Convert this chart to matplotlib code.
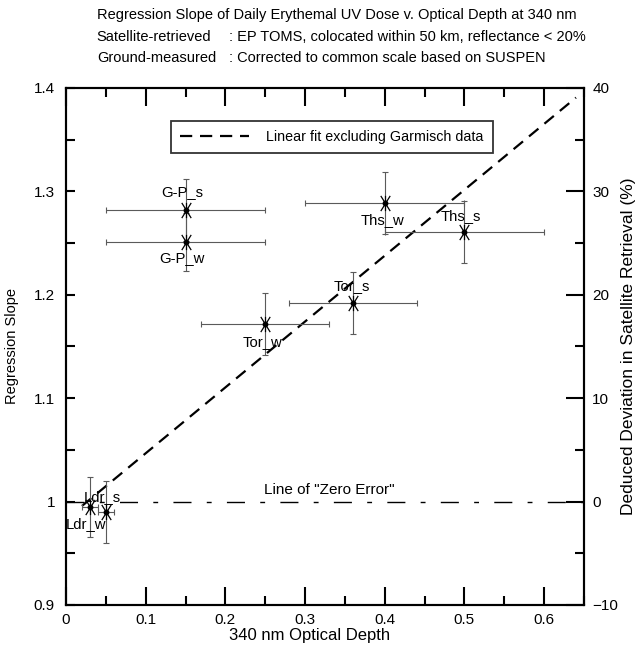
import matplotlib
matplotlib.use("Agg")
import matplotlib.pyplot as plt
import numpy as np
from matplotlib.path import Path
from matplotlib.ticker import MultipleLocator, FuncFormatter

plt.rcParams['font.family'] = ['Liberation Sans', 'DejaVu Sans']

# Site / season labels and regression results
labels = ["G-P_s", "G-P_w", "Ths_w", "Ths_s", "Tor_w", "Tor_s", "Ldr_s", "Ldr_w"]
optical_depth = [0.15, 0.15, 0.40, 0.50, 0.25, 0.36, 0.03, 0.05]
slope = [1.282, 1.251, 1.289, 1.261, 1.172, 1.192, 0.995, 0.990]
depth_err = [0.10, 0.10, 0.10, 0.10, 0.08, 0.08, 0.01, 0.01]
slope_err = [0.030, 0.028, 0.030, 0.030, 0.030, 0.030, 0.029, 0.030]

# Label anchor points (centre of each text)
label_x = [0.146, 0.146, 0.397, 0.496, 0.246, 0.359, 0.045, 0.025]
label_y = [1.299, 1.236, 1.272, 1.276, 1.154, 1.208, 1.004, 0.978]

# Linear fit excluding Garmisch data
fit_slope = 0.637
fit_intercept = 0.983
fit_range = [0.02, 0.64]

fig = plt.figure(figsize=(6.41, 6.54), dpi=100)
ax = fig.add_axes([0.103, 0.075, 0.808, 0.7905])

ax.set_xlim(0, 0.65)
ax.set_ylim(0.9, 1.4)

# Zero-error reference line
ax.plot([0, 0.65], [1.0, 1.0], color='black', lw=1.0,
        linestyle=(0, (13, 11, 3.5, 11)), zorder=1)
ax.text(0.33, 1.011, 'Line of "Zero Error"', ha='center', va='center', fontsize=11)

# Fit line
fx = np.array(fit_range)
fit_line, = ax.plot(fx, fit_intercept + fit_slope * fx, color='black', lw=1.6,
                    linestyle=(0, (5.5, 3.5)), zorder=2,
                    label='Linear fit excluding Garmisch data')

# Error bars
ax.errorbar(optical_depth, slope, xerr=depth_err, yerr=slope_err, fmt='none',
            ecolor='#5a5a5a', elinewidth=0.8, capsize=2.5, capthick=0.8, zorder=3)

# Asterisk marker: a steep X with a vertical stroke
star = Path([(-0.62, -1), (0.62, 1), (-0.62, 1), (0.62, -1), (0, -1), (0, 1)],
            [Path.MOVETO, Path.LINETO, Path.MOVETO, Path.LINETO, Path.MOVETO, Path.LINETO])
ax.scatter(optical_depth, slope, marker=star, s=120, color='black',
           linewidths=0.9, zorder=4)
ax.scatter(optical_depth, slope, marker='o', s=10, color='black', zorder=5)

for lab, lx, ly in zip(labels, label_x, label_y):
    ax.text(lx, ly, lab, ha='center', va='center', fontsize=10.7, zorder=6)

leg = ax.legend(handles=[fit_line], loc='center', bbox_to_anchor=(0.513, 0.905),
                frameon=True, fancybox=False, edgecolor='black', fontsize=10.3,
                handlelength=4.8, borderpad=0.65, handletextpad=1.2)
leg.get_frame().set_linewidth(1.3)

# Axes styling
for sp in ax.spines.values():
    sp.set_linewidth(1.5)

ax.xaxis.set_major_locator(MultipleLocator(0.1))
ax.xaxis.set_minor_locator(MultipleLocator(0.05))
ax.yaxis.set_major_locator(MultipleLocator(0.1))
ax.yaxis.set_minor_locator(MultipleLocator(0.05))

def fmt(v, pos):
    return f"{v:.2f}".rstrip('0').rstrip('.')

ax.xaxis.set_major_formatter(FuncFormatter(fmt))
ax.yaxis.set_major_formatter(FuncFormatter(fmt))

ax.tick_params(axis='x', which='major', direction='in', length=13, width=1.5,
               top=True, labelsize=11, pad=6)
ax.tick_params(axis='x', which='minor', direction='in', length=6.5, width=1.5, top=True)
ax.tick_params(axis='y', which='major', direction='in', length=6.5, width=1.5,
               labelsize=11, pad=8)
ax.tick_params(axis='y', which='minor', direction='in', length=6.5, width=1.5)

ax.set_xlabel('340 nm Optical Depth', fontsize=12, labelpad=0)
ax.xaxis.set_label_coords(0.47, -0.045)
ax.set_ylabel('Regression Slope', fontsize=10.5, labelpad=11)

# Deviation axis: (slope - 1) expressed in percent
ax2 = ax.twinx()
ax2.set_ylim(-10, 40)
ax2.yaxis.set_major_locator(MultipleLocator(10))
ax2.yaxis.set_minor_locator(MultipleLocator(5))
ax2.tick_params(axis='y', which='major', direction='in', length=13, width=1.5,
                labelsize=11, pad=6)
ax2.tick_params(axis='y', which='minor', direction='in', length=6.5, width=1.5)
for sp in ax2.spines.values():
    sp.set_linewidth(1.5)
ax2.set_ylabel('Deduced Deviation in Satellite Retrieval (%)', fontsize=12.5, labelpad=2)

# Header text
fig.text(0.151, 0.977, 'Regression Slope of Daily Erythemal UV Dose v. Optical Depth at 340 nm',
         ha='left', va='center', fontsize=10.5)
fig.text(0.151, 0.944, 'Satellite-retrieved', ha='left', va='center', fontsize=10.5)
fig.text(0.357, 0.944, ': EP TOMS, colocated within 50 km, reflectance < 20%',
         ha='left', va='center', fontsize=10.5)
fig.text(0.151, 0.911, 'Ground-measured', ha='left', va='center', fontsize=10.5)
fig.text(0.357, 0.911, ': Corrected to common scale based on SUSPEN',
         ha='left', va='center', fontsize=10.5)

fig.savefig('out.png', dpi=100)
